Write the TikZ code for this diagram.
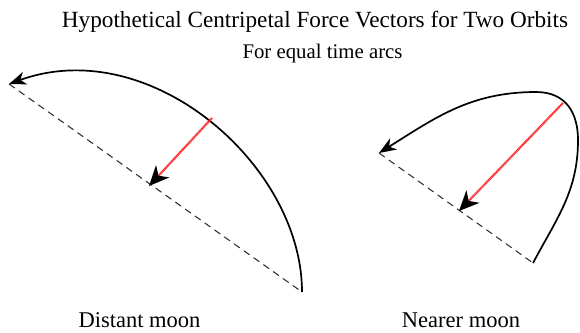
\documentclass[tikz,border=0pt]{standalone}
\usepackage{fontspec}
\setmainfont{Liberation Serif}
\usetikzlibrary{arrows.meta}
\begin{document}
\begin{tikzpicture}[x=1pt,y=-1pt,
  orbit/.style={line width=1.7pt,-{Stealth[length=17pt,width=13pt,inset=5pt]}},
  chord/.style={line width=1.1pt,dash pattern=on 7pt off 5pt,black!80},
  force/.style={red!85!white,line width=2.2pt,dash pattern=on 1pt off 0.5pt,-{Stealth[black,length=20pt,width=18pt,inset=6pt]}},
  lbl/.style={font=\fontsize{22.5}{25}\selectfont,anchor=base}]
\useasboundingbox (0,0) rectangle (580,332);
% title
\node[font=\fontsize{23.2}{26}\selectfont,anchor=base] (title) at (315,27) {Hypothetical Centripetal Force Vectors for Two Orbits};
\node[font=\fontsize{20.8}{23}\selectfont,anchor=base] (sub) at (322.5,58) {For equal time arcs};
% left orbit
\coordinate (La) at (302,292);
\coordinate (Lb) at (9,84);
\coordinate (Lf) at (212,118);
\coordinate (Lt) at (149,186);
\draw[chord] (Lb) -- (La);
\draw[orbit] (La) .. controls (302,165) and (150,33) .. (Lb);
\draw[force] (Lf) -- (Lt);
% right orbit
\coordinate (Ra) at (533,263);
\coordinate (Rb) at (379,153);
\coordinate (Rr) at (578,140);
\coordinate (Rtop) at (536,92);
\coordinate (Rf) at (563,103);
\coordinate (Rt) at (459,211);
\draw[chord] (Rb) -- (Ra);
\draw[orbit] (Ra) to[out=62,in=-90] (Rr) to[out=90,in=0,looseness=1.15] (Rtop) to[out=180,in=32] (Rb);
\draw[force] (Rf) -- (Rt);
% labels
\node[lbl] (dist) at (139.5,327) {Distant moon};
\node[lbl] (near) at (461,327) {Nearer moon};
\end{tikzpicture}
\end{document}
